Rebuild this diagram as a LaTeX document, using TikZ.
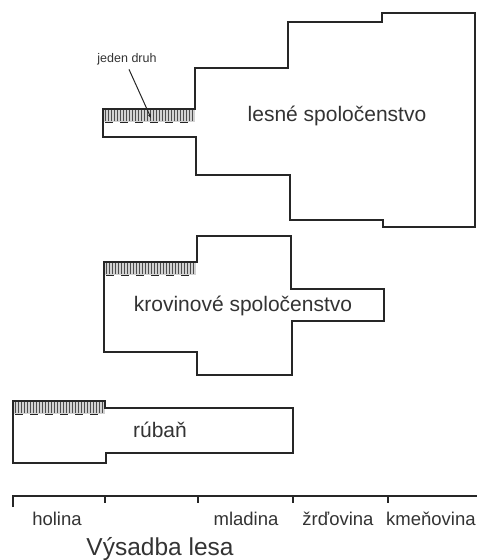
\documentclass[tikz,border=0pt]{standalone}
\usepackage{fontspec}
\setmainfont{Liberation Sans}
\usetikzlibrary{arrows.meta}

\tikzset{
	obrys/.style = {draw=black!85, line width=1.5pt, line join=miter},
	os/.style = {draw=black!85, line width=1.3pt},
	popis/.style = {font=\fontsize{18.5}{22}\selectfont, text=black!80},
	spol/.style = {font=\fontsize{21}{25}\selectfont, text=black!80},
	druhpas/.pic = {
		\fill[gray!35] (0,0) rectangle (92,13);
		\foreach \i in {2,5,...,90}
		{
			\draw[gray!60!black, line width=0.7pt] (\i,0) -- (\i,12);
		}
		\foreach \i in {2,17,...,77}
		{
			\draw[black!85, line width=1.8pt] (\i,13.5) -- (\i+8,13.5);
		}
		\draw[black!85, line width=1.5pt] (0,13) -- (0,0) -- (92,0);
	}
}

\begin{document}
\begin{tikzpicture}[x=1pt, y=-1pt]
	\useasboundingbox (0,0) rectangle (477,560);

	% lesne spolocenstvo
	\pic at (103,109) {druhpas};
	\draw[obrys] (103,109) -- (195,109) -- (195,68) -- (288,68) -- (288,22) -- (382,22) -- (382,13) -- (475,13)
		-- (475,227) -- (383,227) -- (383,220) -- (290,220) -- (290,175) -- (196,175) -- (196,137) -- (103,137) -- cycle;
	\node[spol, name=lesne] at (337,116) {lesné spoločenstvo};

	% jeden druh
	\node[font=\fontsize{12.5}{15}\selectfont, text=black!80, name=druh] at (127,59) {jeden druh};
	\coordinate (druhcil) at (151,118);
	\draw[black!85, line width=1pt, -{Stealth[length=4pt, width=3pt]}] (druh.south) ++(2,1) -- (druhcil);

	% krovinove spolocenstvo
	\pic at (104,262) {druhpas};
	\draw[obrys] (104,262) -- (197,262) -- (197,236) -- (291,236) -- (291,289) -- (384,289) -- (384,321)
		-- (292,321) -- (292,375) -- (197,375) -- (197,352) -- (104,352) -- cycle;
	\node[spol, name=krov] at (243,306) {krovinové spoločenstvo};

	% ruban
	\pic at (13,401) {druhpas};
	\draw[obrys] (13,401) -- (105,401) -- (105,408) -- (293,408) -- (293,453) -- (106,453) -- (106,463) -- (13,463) -- cycle;
	\node[spol, name=ruban] at (160,430) {rúbaň};

	% os
	\draw[os] (13,507) -- (13,496) -- (477,496);
	\foreach \x in {105,198,293,388}
	{
		\draw[os] (\x,496) -- (\x,503);
	}
	\node[popis, name=holina] at (57,519) {holina};
	\node[popis, name=mladina] at (246,519) {mladina};
	\node[popis, name=zrdovina] at (338,519) {žrďovina};
	\node[popis, name=kmenovina, anchor=west, inner sep=0pt] at (386,519) {kmeňovina};
	\node[font=\fontsize{24.5}{29}\selectfont, text=black!80, name=titul] at (160,549) {Výsadba lesa};
\end{tikzpicture}
\end{document}
